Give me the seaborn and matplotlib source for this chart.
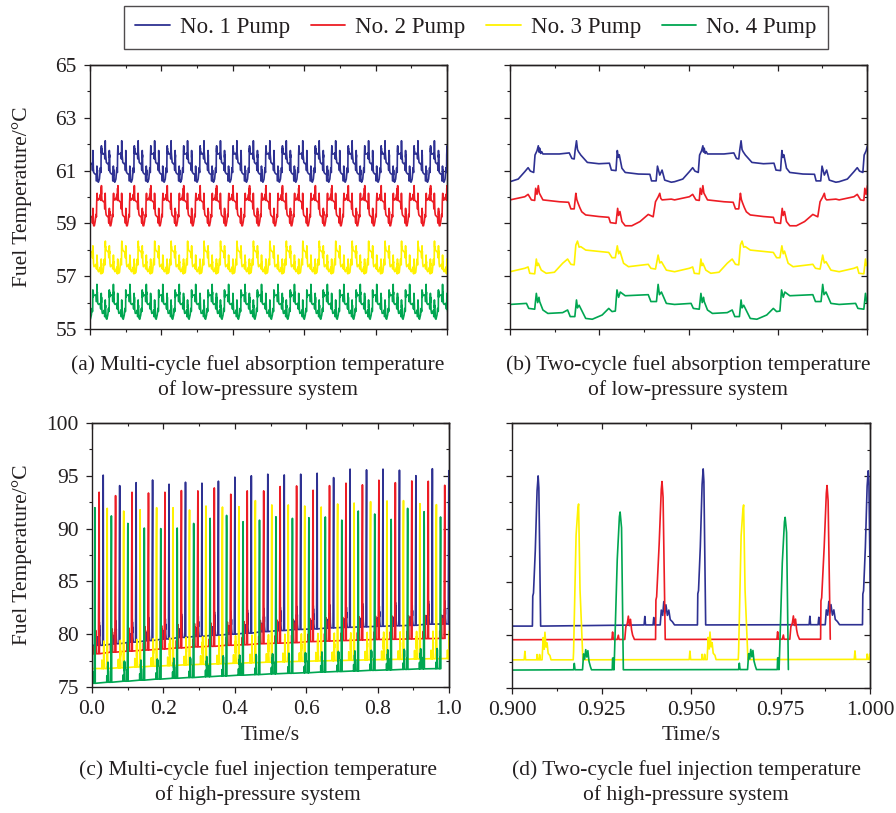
import numpy as np
import pandas as pd
import matplotlib
matplotlib.use("Agg")
import matplotlib.pyplot as plt
import seaborn as sns
from matplotlib.ticker import FixedLocator, FormatStrFormatter, NullFormatter
from matplotlib.lines import Line2D

sns.set_theme(style="ticks")
plt.rcParams['font.family'] = ['Liberation Serif', 'DejaVu Serif']
plt.rcParams['mathtext.fontset'] = 'stix'

# ---------------- data ----------------
pumps = ["No. 1 Pump", "No. 2 Pump", "No. 3 Pump", "No. 4 Pump"]
colors = ["#2E3192", "#ED1C24", "#FFF200", "#00A651"]

cycle_period = 0.0461                       # s, one working cycle
first_peak = [0.0314, 0.0199, 0.0427, 0.0082]  # time of first injection peak per pump
low_cycle_origin = 0.0241                   # start of a low-pressure cycle

# injection (high-pressure) peak temperature per cycle
peaks_1 = [95.06, 94.07, 94.35, 94.6, 94.2, 94.39, 94.3, 94.49, 94.87, 95.0, 95.15,
           95.08, 95.15, 95.24, 94.83, 95.63, 95.56, 95.63, 95.53, 95.01, 95.67, 95.49]
peaks_2 = [93.44, 93.12, 93.44, 93.37, 93.44, 93.6, 93.57, 93.85, 93.25, 93.57, 93.57,
           93.98, 94.04, 93.63, 94.07, 94.3, 94.14, 94.58, 94.35, 94.51, 94.48, 94.1]
peaks_3 = [91.92, 91.66, 91.79, 91.98, 91.98, 91.76, 92.14, 92.04, 92.08, 92.65, 92.24,
           92.24, 92.14, 92.04, 92.33, 92.42, 92.55, 92.62, 92.65, 92.36, 92.27, 92.4]
peaks_4 = [91.98, 91.2, 90.49, 90.05, 90.0, 90.05, 90.49, 90.97, 91.25, 90.65, 90.8,
           91.12, 90.97, 91.03, 91.1, 90.8, 91.66, 91.38, 90.87, 91.92, 91.6, 91.1]

# injection baseline temperature per cycle
base_1 = [78.95, 79.1, 79.25, 79.4, 79.55, 79.7, 79.8, 79.9, 80.0, 80.1, 80.25,
          80.35, 80.45, 80.5, 80.6, 80.65, 80.7, 80.75, 80.8, 80.84, 80.95, 80.97]
base_2 = [78.15, 78.3, 78.4, 78.5, 78.6, 78.7, 78.8, 78.85, 78.95, 79.0, 79.1,
          79.15, 79.2, 79.3, 79.35, 79.4, 79.45, 79.5, 79.52, 79.55, 79.58, 79.6]
base_3 = [76.75, 76.82, 76.9, 76.97, 77.03, 77.1, 77.15, 77.2, 77.25, 77.3, 77.35,
          77.4, 77.43, 77.47, 77.5, 77.53, 77.57, 77.6, 77.62, 77.66, 77.68, 77.7]
base_4 = [75.35, 75.45, 75.55, 75.65, 75.75, 75.83, 75.9, 75.98, 76.05, 76.12, 76.18,
          76.25, 76.3, 76.35, 76.42, 76.47, 76.52, 76.58, 76.62, 76.67, 76.72, 76.74]

# small pressure-wave bumps before each injection: (dt from own peak [s], rise above baseline [degC])
bumps_1 = [(-0.0165, 0), (-0.0163, 0.8), (-0.0161, 0), (-0.0140, 0), (-0.0138, 0.7), (-0.0136, 0),
           (-0.0120, 0), (-0.0117, 1.4), (-0.0113, 0.9), (-0.0110, 2.2), (-0.0107, 1.1),
           (-0.0104, 1.9), (-0.0100, 0.9), (-0.0096, 1.4), (-0.0092, 0.5), (-0.0086, 0.3), (-0.0080, 0)]
bumps_2 = [(-0.0140, 0), (-0.0138, 0.7), (-0.0136, 0), (-0.0125, 0), (-0.0122, 0.4), (-0.0120, 0),
           (-0.0104, 0), (-0.0101, 1.2), (-0.0097, 1.5), (-0.0094, 2.2), (-0.0091, 1.3),
           (-0.0088, 1.9), (-0.0085, 0.9), (-0.0082, 0.4), (-0.0077, 0)]
bumps_3 = [(-0.0152, 0), (-0.0150, 0.8), (-0.0148, 0), (-0.0117, 0), (-0.0116, 0.5), (-0.0114, 0),
           (-0.0110, 0), (-0.0109, 0.5), (-0.0107, 0), (-0.0102, 0), (-0.0099, 2.1), (-0.0096, 1.0),
           (-0.0094, 2.6), (-0.0091, 1.2), (-0.0088, 1.6), (-0.0085, 0.6), (-0.0080, 0.4), (-0.0077, 0)]
bumps_4 = [(-0.0130, 0), (-0.0128, 0.6), (-0.0126, 0), (-0.0105, 0), (-0.0102, 1.5), (-0.0099, 1.0),
           (-0.0096, 1.9), (-0.0093, 1.2), (-0.0090, 1.8), (-0.0087, 0.8), (-0.0083, 0.3),
           (-0.0080, 0), (-0.0022, 0), (-0.0021, 1.1), (-0.0019, 1.1), (-0.0018, 0)]

# injection pulse shape: (dt from peak [s], fraction of peak height)
pulse_1 = [(-0.0016, 0), (-0.0015, 0.2), (-0.0013, 0.22), (-0.0008, 0.5), (-0.0003, 0.9),
           (0.0, 1.0), (0.0002, 0.92), (0.0007, 0)]
pulse_2 = [(-0.0018, 0), (-0.0017, 0.25), (-0.0015, 0.27), (-0.0008, 0.6), (-0.0002, 0.95),
           (0.0, 1.0), (0.0003, 0.9), (0.0009, 0)]
pulse_3 = [(-0.0015, 0), (-0.0014, 0.05), (-0.0007, 0.8), (-0.0002, 0.97), (0.0, 1.0),
           (0.0004, 0.45), (0.0012, 0)]
pulse_4 = [(-0.0017, 0), (-0.0015, 0.15), (-0.0008, 0.7), (-0.0002, 0.97), (0.0, 1.0),
           (0.0004, 0.9), (0.0009, 0)]

# low-pressure (suction) temperature over one cycle: (fraction of cycle, degC)
low_1 = [(0.000, 60.58), (0.050, 60.68), (0.090, 60.96), (0.110, 61.11), (0.124, 60.98),
         (0.144, 60.93), (0.152, 61.59), (0.164, 61.75), (0.172, 61.94), (0.176, 61.70),
         (0.180, 61.85), (0.186, 61.65), (0.192, 61.72), (0.200, 61.63), (0.300, 61.63),
         (0.360, 61.67), (0.376, 61.46), (0.390, 61.44), (0.396, 61.78), (0.404, 62.13),
         (0.410, 61.80), (0.416, 61.72), (0.430, 61.59), (0.470, 61.31), (0.540, 61.26),
         (0.604, 61.28), (0.616, 61.02), (0.644, 61.00), (0.652, 61.76), (0.658, 61.50),
         (0.664, 61.60), (0.680, 61.09), (0.700, 60.93), (0.780, 60.87), (0.850, 60.86),
         (0.860, 60.61), (0.888, 60.61), (0.896, 61.17), (0.910, 60.83), (0.924, 61.02),
         (0.940, 60.64), (0.980, 60.56)]
low_2 = [(0.000, 59.89), (0.090, 60.01), (0.110, 60.10), (0.130, 59.89), (0.150, 59.87),
         (0.156, 60.33), (0.164, 60.10), (0.172, 60.43), (0.178, 60.15), (0.184, 60.08),
         (0.200, 59.89), (0.300, 59.82), (0.356, 59.80), (0.370, 59.55), (0.390, 59.55),
         (0.400, 60.14), (0.406, 59.90), (0.414, 59.76), (0.424, 59.60), (0.436, 59.44),
         (0.460, 59.32), (0.540, 59.26), (0.600, 59.23), (0.610, 59.03), (0.644, 59.00),
         (0.654, 59.57), (0.660, 59.30), (0.668, 59.45), (0.680, 59.07), (0.700, 58.91),
         (0.740, 58.91), (0.790, 59.07), (0.840, 59.34), (0.870, 59.25), (0.884, 59.82),
         (0.900, 60.00), (0.910, 60.14), (0.916, 59.95), (0.924, 59.89), (0.980, 59.92)]
low_3 = [(0.000, 57.17), (0.090, 57.30), (0.110, 57.35), (0.120, 57.11), (0.150, 57.09),
         (0.160, 57.65), (0.166, 57.40), (0.172, 57.49), (0.190, 57.23), (0.220, 57.11),
         (0.270, 57.15), (0.320, 57.49), (0.350, 57.65), (0.370, 57.45), (0.390, 57.43),
         (0.400, 58.18), (0.410, 58.33), (0.420, 58.10), (0.430, 58.12), (0.460, 57.99),
         (0.600, 57.90), (0.620, 57.70), (0.640, 57.70), (0.652, 58.15), (0.660, 57.85),
         (0.668, 57.95), (0.690, 57.49), (0.720, 57.36), (0.840, 57.45), (0.856, 57.30),
         (0.884, 57.27), (0.900, 57.80), (0.910, 57.50), (0.920, 57.55), (0.950, 57.23)]
low_4 = [(0.000, 55.93), (0.100, 55.97), (0.114, 55.78), (0.150, 55.75), (0.160, 56.35),
         (0.168, 56.00), (0.176, 56.20), (0.180, 56.04), (0.200, 55.72), (0.230, 55.59),
         (0.320, 55.62), (0.350, 55.72), (0.366, 55.47), (0.394, 55.47), (0.404, 56.10),
         (0.410, 55.80), (0.420, 55.90), (0.460, 55.40), (0.500, 55.37), (0.560, 55.53),
         (0.600, 55.78), (0.620, 55.66), (0.640, 55.68), (0.650, 56.48), (0.660, 56.20),
         (0.670, 56.40), (0.700, 56.26), (0.840, 56.30), (0.856, 56.04), (0.890, 56.04),
         (0.900, 56.69), (0.908, 56.30), (0.920, 56.40), (0.950, 55.97)]

panel_captions = [
    ("(a) Multi-cycle fuel absorption temperature", "of low-pressure system"),
    ("(b) Two-cycle fuel absorption temperature", "of low-pressure system"),
    ("(c) Multi-cycle fuel injection temperature", "of high-pressure system"),
    ("(d) Two-cycle fuel injection temperature", "of high-pressure system"),
]
y_label = "Fuel Temperature/\u00b0C"
x_label = "Time/s"


# ---------------- build long tables ----------------
def high_series(first, peaks, bases, bumps, pulse):
    t, v = [-0.02], [bases[0]]
    for k, (pk, b) in enumerate(zip(peaks, bases)):
        tp = first + k * cycle_period
        for dt, dv in bumps:
            t.append(tp + dt); v.append(b + dv)
        for dt, f in pulse:
            t.append(tp + dt); v.append(b + f * (pk - b))
    t.append(1.05); v.append(bases[-1])
    return t, v


def low_series(template):
    t, v = [], []
    for k in range(-1, 23):
        for f, val in template:
            t.append(low_cycle_origin + (k + f) * cycle_period); v.append(val)
    return t, v


high_rows, low_rows = [], []
for name, fp, pk, bs, bm, pl, lo in zip(
        pumps, first_peak, [peaks_1, peaks_2, peaks_3, peaks_4],
        [base_1, base_2, base_3, base_4], [bumps_1, bumps_2, bumps_3, bumps_4],
        [pulse_1, pulse_2, pulse_3, pulse_4], [low_1, low_2, low_3, low_4]):
    t, v = high_series(fp, pk, bs, bm, pl)
    high_rows.append(pd.DataFrame({"time": t, "temp": v, "pump": name}))
    t, v = low_series(lo)
    low_rows.append(pd.DataFrame({"time": t, "temp": v, "pump": name}))
high_df = pd.concat(high_rows, ignore_index=True)
low_df = pd.concat(low_rows, ignore_index=True)

# ---------------- figure ----------------
W, H = 896, 813
fig = plt.figure(figsize=(W / 100, H / 100), dpi=100)


def add_ax(x0, y0, x1, y1):
    return fig.add_axes([x0 / W, 1 - y1 / H, (x1 - x0) / W, (y1 - y0) / H])


ax_a = add_ax(90, 65, 447, 329)
ax_b = add_ax(510, 65, 867, 329)
ax_c = add_ax(92, 423, 449, 687)
ax_d = add_ax(512, 423, 870, 688)

ink = "#231f20"
lw = 1.2

for ax, df, xl in [(ax_a, low_df, (0, 1)), (ax_b, low_df, (0.9, 1.0)),
                   (ax_c, high_df, (0, 1)), (ax_d, high_df, (0.9, 1.0))]:
    sub = df[(df.time >= xl[0] - 0.03) & (df.time <= xl[1] + 0.03)]
    sns.lineplot(data=sub, x="time", y="temp", hue="pump", hue_order=pumps,
                 palette=colors, estimator=None, sort=False, linewidth=lw,
                 legend=False, ax=ax)
    ax.set_xlabel(""); ax.set_ylabel("")


def style(ax, xlim, xmaj, xmin, ylim, ymaj, ymin, xfmt, show_x, show_y):
    ax.set_xlim(*xlim); ax.set_ylim(*ylim)
    ax.xaxis.set_major_locator(FixedLocator(xmaj))
    ax.xaxis.set_minor_locator(FixedLocator(xmin))
    ax.yaxis.set_major_locator(FixedLocator(ymaj))
    ax.yaxis.set_minor_locator(FixedLocator(ymin))
    ax.xaxis.set_major_formatter(FormatStrFormatter(xfmt))
    ax.yaxis.set_major_formatter(FormatStrFormatter("%d"))
    ax.tick_params(which="major", direction="out", length=4.5, width=0.9,
                   color=ink, labelcolor=ink, labelsize=15.5)
    ax.tick_params(which="minor", direction="out", length=2.5, width=0.8, color=ink)
    ax.tick_params(axis="y", pad=5)
    ax.tick_params(axis="x", pad=5)
    ax.tick_params(axis="x", labelbottom=show_x)
    ax.tick_params(axis="y", labelleft=show_y)
    for s in ax.spines.values():
        s.set_visible(True); s.set_linewidth(1.0); s.set_color(ink)
    sx = ax.secondary_xaxis("top")
    sx.xaxis.set_major_locator(FixedLocator(xmaj))
    sx.xaxis.set_minor_locator(FixedLocator(xmin))
    sx.xaxis.set_major_formatter(NullFormatter())
    sx.tick_params(which="major", direction="in", length=4.5, width=0.9, color=ink)
    sx.tick_params(which="minor", direction="in", length=2.5, width=0.8, color=ink)
    sx.spines["top"].set_linewidth(1.0); sx.spines["top"].set_color(ink)
    sy = ax.secondary_yaxis("right")
    sy.yaxis.set_major_locator(FixedLocator(ymaj))
    sy.yaxis.set_minor_locator(FixedLocator(ymin))
    sy.yaxis.set_major_formatter(NullFormatter())
    sy.tick_params(which="major", direction="in", length=4.5, width=0.9, color=ink)
    sy.tick_params(which="minor", direction="in", length=2.5, width=0.8, color=ink)
    sy.spines["right"].set_linewidth(1.0); sy.spines["right"].set_color(ink)


xs_long = [0, 0.2, 0.4, 0.6, 0.8, 1.0]
xs_long_m = [0.1, 0.3, 0.5, 0.7, 0.9]
xs_short = [0.9, 0.925, 0.95, 0.975, 1.0]
xs_short_m = [0.9125, 0.9375, 0.9625, 0.9875]
style(ax_a, (0, 1), xs_long, xs_long_m, (55, 65), [55, 57, 59, 61, 63, 65],
      [56, 58, 60, 62, 64], "%.1f", False, True)
style(ax_b, (0.9, 1.0), xs_short, xs_short_m, (55, 65), [55, 57, 59, 61, 63, 65],
      [56, 58, 60, 62, 64], "%.3f", False, False)
style(ax_c, (0, 1), xs_long, xs_long_m, (75, 100), [75, 80, 85, 90, 95, 100],
      [77.5, 82.5, 87.5, 92.5, 97.5], "%.1f", True, True)
style(ax_d, (0.9, 1.0), xs_short, xs_short_m, (75, 100), [75, 80, 85, 90, 95, 100],
      [77.5, 82.5, 87.5, 92.5, 97.5], "%.3f", True, False)

fs = 15.5
# y labels
fig.text(22 / W, 1 - 197 / H, y_label, rotation=90, ha="center", va="center",
         fontsize=fs, color=ink)
fig.text(22 / W, 1 - 555 / H, y_label, rotation=90, ha="center", va="center",
         fontsize=fs, color=ink)
# x labels
fig.text(270 / W, 1 - 736 / H, x_label, ha="center", va="center", fontsize=fs, color=ink)
fig.text(691 / W, 1 - 736 / H, x_label, ha="center", va="center", fontsize=fs, color=ink)

# captions
cap_pos = [(258, 365), (688, 365), (258, 770), (686, 770)]
for (l1, l2), (cx, cy) in zip(panel_captions, cap_pos):
    fig.text(cx / W, 1 - cy / H, l1, ha="center", va="center", fontsize=fs, color=ink)
    fig.text(cx / W, 1 - (cy + 25) / H, l2, ha="center", va="center", fontsize=fs, color=ink)

# legend
handles = [Line2D([0], [0], color=c, lw=1.3) for c in colors]
leg = fig.legend(handles, pumps, loc="center", bbox_to_anchor=(476 / W, 1 - 27.5 / H),
                 ncol=4, frameon=True, fancybox=False, fontsize=16.5,
                 handlelength=1.5, handletextpad=0.45, columnspacing=0.9,
                 borderpad=0.5, borderaxespad=0)
leg.get_frame().set_edgecolor(ink)
leg.get_frame().set_linewidth(1.0)
for txt in leg.get_texts():
    txt.set_color(ink)

fig.savefig("out.png", dpi=100)
